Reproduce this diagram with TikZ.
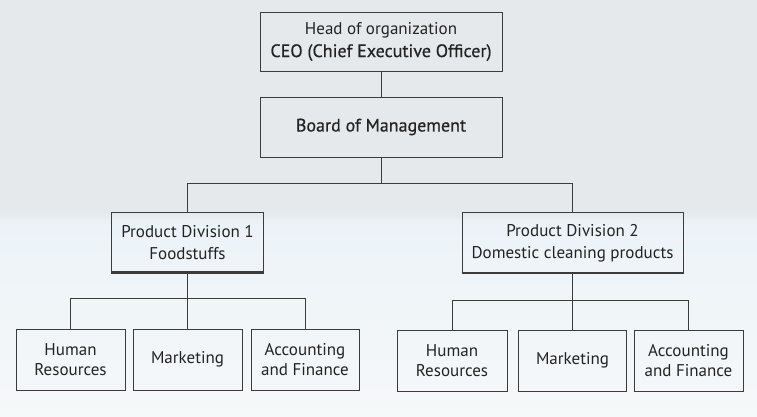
\documentclass[tikz,border=0pt]{standalone}
\usepackage{fontspec}
\setmainfont{PT Sans}
\newfontfamily\medfont[FakeBold=0.6]{PT Sans}
\definecolor{bgtop}{RGB}{230,233,236}
\definecolor{bgmid}{RGB}{236,243,248}
\definecolor{bgbot}{RGB}{246,248,249}
\definecolor{linec}{RGB}{60,60,60}
\definecolor{textc}{RGB}{35,35,35}
\newcommand{\medtext}[1]{{\medfont\fontsize{18}{23}\selectfont #1}}
\begin{document}
\begin{tikzpicture}[x=1pt,y=-1pt,
  box/.style={draw=linec, line width=0.9pt, inner sep=0pt, align=center,
    text=textc, font=\fontsize{17}{23}\selectfont},
  divbox/.style={box, minimum height=61pt, font=\fontsize{17}{22}\selectfont},
  leaf/.style={box, minimum height=61pt, font=\fontsize{17}{20.5}\selectfont},
  conn/.style={draw=linec, line width=0.8pt},
  shadowline/.style={draw=linec, line width=2pt}]
\useasboundingbox (0,0) rectangle (757,417);
\fill[bgtop] (0,0) rectangle (757,212);
\shade[top color=bgtop, bottom color=bgmid] (0,212) rectangle (757,224);
\shade[top color=bgmid, bottom color=bgbot] (0,224) rectangle (757,417);

\node[box, minimum width=242pt, minimum height=59pt] (ceo) at (381,41.5)
  {Head of organization\\\medtext{CEO (Chief Executive Officer)}};
\node[box, minimum width=242pt, minimum height=60pt] (board) at (381,127)
  {\medtext{Board of Management}};

\node[divbox, minimum width=152pt] (div1) at (187.5,242.5)
  {Product Division 1\\Foodstuffs};
\node[divbox, minimum width=221pt] (div2) at (572.5,243)
  {Product Division 2\\Domestic cleaning products};
\draw[shadowline] (div1.south west) ++(0,-1) -- ([yshift=1pt]div1.south east);
\draw[shadowline] (div2.south west) ++(0,-1) -- ([yshift=1pt]div2.south east);

\node[leaf, minimum width=109pt] (hr1) at (70.5,359.5) {Human\\Resources};
\node[leaf, minimum width=109pt] (mk1) at (187.5,359.5) {Marketing};
\node[leaf, minimum width=108pt] (ac1) at (305,359.5) {Accounting\\and Finance};

\node[leaf, minimum width=110pt] (hr2) at (452,360.5) {Human\\Resources};
\node[leaf, minimum width=108pt] (mk2) at (572.5,360.5) {Marketing};
\node[leaf, minimum width=109pt] (ac2) at (688.5,360.5) {Accounting\\and Finance};

\draw[conn] (ceo.south) -- (board.north);
\draw[conn] (board.south) -- ++(0,26) coordinate (bus) -| (div1.north);
\draw[conn] (bus) -| (div2.north);

\draw[conn] (div1.south) -- (mk1.north);
\draw[conn] (div1.south) -- ++(0,25) coordinate (bus1) -| (hr1.north);
\draw[conn] (bus1) -| (ac1.north);

\draw[conn] (div2.south) -- (mk2.north);
\draw[conn] (div2.south) -- ++(0,26) coordinate (bus2) -| (hr2.north);
\draw[conn] (bus2) -| (ac2.north);
\end{tikzpicture}
\end{document}
